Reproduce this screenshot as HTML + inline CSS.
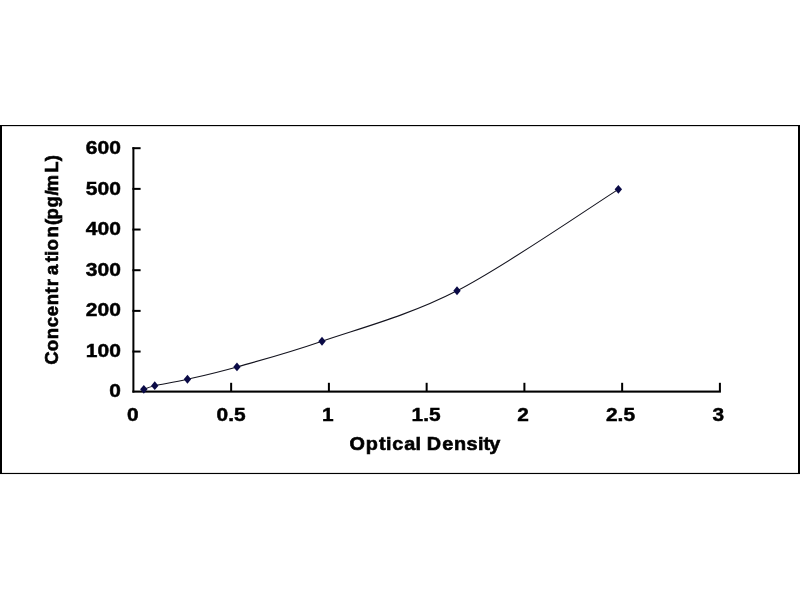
<!DOCTYPE html>
<html>
<head>
<meta charset="utf-8">
<style>
html,body{margin:0;padding:0;background:#fff;}
body{width:800px;height:600px;overflow:hidden;font-family:"Liberation Sans",sans-serif;}
svg{display:block;}
text{font-family:"Liberation Sans",sans-serif;font-weight:bold;fill:#000;stroke:#000;stroke-width:0.45px;}
</style>
</head>
<body>
<svg width="800" height="600" viewBox="0 0 800 600">
<rect x="0" y="0" width="800" height="600" fill="#ffffff"/>
<!-- outer frame -->
<rect x="0" y="125" width="800" height="1.15" fill="#000"/>
<rect x="0" y="472.9" width="800" height="1.15" fill="#000"/>
<rect x="0" y="125" width="2" height="349" fill="#000"/>
<rect x="798" y="125" width="2" height="349" fill="#000"/>
<!-- axes -->
<rect x="132.4" y="147.2" width="2" height="245.4" fill="#000"/>
<rect x="132.4" y="390.55" width="588.5" height="2.1" fill="#000"/>
<!-- y ticks -->
<g fill="#000">
<rect x="132.4" y="147.20" width="8.2" height="2"/>
<rect x="132.4" y="187.87" width="8.2" height="2"/>
<rect x="132.4" y="228.54" width="8.2" height="2"/>
<rect x="132.4" y="269.21" width="8.2" height="2"/>
<rect x="132.4" y="309.88" width="8.2" height="2"/>
<rect x="132.4" y="350.55" width="8.2" height="2"/>
</g>
<!-- x ticks -->
<g fill="#000">
<rect x="230.15" y="382.8" width="2" height="8.5"/>
<rect x="327.90" y="382.8" width="2" height="8.5"/>
<rect x="425.65" y="382.8" width="2" height="8.5"/>
<rect x="523.40" y="382.8" width="2" height="8.5"/>
<rect x="621.15" y="382.8" width="2" height="8.5"/>
<rect x="718.90" y="382.8" width="2" height="8.5"/>
</g>
<!-- curve -->
<path id="curve" d="M143.80,389.30 C145.62,388.70 147.47,387.38 154.75,385.70 C162.03,384.02 173.75,382.38 187.45,379.25 C201.15,376.12 214.52,373.28 236.95,366.95 C259.38,360.62 285.32,353.95 322.00,341.25 C358.68,328.55 407.61,316.07 457.00,290.75 C506.39,265.43 591.46,206.25 618.35,189.35" fill="none" stroke="#14141f" stroke-width="1.1"/>
<!-- markers -->
<g fill="#0a0a46" id="markers">
<path d="M143.80,384.90 L147.50,389.30 L143.80,393.70 L140.10,389.30 Z"/>
<path d="M154.75,381.30 L158.45,385.70 L154.75,390.10 L151.05,385.70 Z"/>
<path d="M187.45,374.85 L191.15,379.25 L187.45,383.65 L183.75,379.25 Z"/>
<path d="M236.95,362.55 L240.65,366.95 L236.95,371.35 L233.25,366.95 Z"/>
<path d="M322.00,336.85 L325.70,341.25 L322.00,345.65 L318.30,341.25 Z"/>
<path d="M457.00,286.35 L460.70,290.75 L457.00,295.15 L453.30,290.75 Z"/>
<path d="M618.35,184.95 L622.05,189.35 L618.35,193.75 L614.65,189.35 Z"/>
</g>
<g style="filter:grayscale(1)">
<!-- y labels -->
<g font-size="17.5" text-anchor="end">
<text x="120.8" y="154.0" textLength="35" lengthAdjust="spacingAndGlyphs">600</text>
<text x="120.8" y="195.0" textLength="35" lengthAdjust="spacingAndGlyphs">500</text>
<text x="120.8" y="234.5" textLength="35" lengthAdjust="spacingAndGlyphs">400</text>
<text x="120.8" y="276.3" textLength="35" lengthAdjust="spacingAndGlyphs">300</text>
<text x="120.8" y="315.7" textLength="35" lengthAdjust="spacingAndGlyphs">200</text>
<text x="120.8" y="356.5" textLength="35" lengthAdjust="spacingAndGlyphs">100</text>
<text x="120.8" y="396.8" textLength="11.6" lengthAdjust="spacingAndGlyphs">0</text>
</g>
<!-- x labels -->
<g font-size="17.5" text-anchor="middle">
<text x="132.7" y="421.3" textLength="11.6" lengthAdjust="spacingAndGlyphs">0</text>
<text x="231.1" y="421.3" textLength="29" lengthAdjust="spacingAndGlyphs">0.5</text>
<text x="327.8" y="421.3" textLength="11.6" lengthAdjust="spacingAndGlyphs">1</text>
<text x="426.1" y="421.3" textLength="29" lengthAdjust="spacingAndGlyphs">1.5</text>
<text x="523.1" y="421.3" textLength="11.6" lengthAdjust="spacingAndGlyphs">2</text>
<text x="620.5" y="421.3" textLength="29" lengthAdjust="spacingAndGlyphs">2.5</text>
<text x="718.4" y="421.3" textLength="11.6" lengthAdjust="spacingAndGlyphs">3</text>
</g>
<text id="xtitle" style="stroke-width:0.6px" font-size="18" transform="translate(0,449.9) scale(1.1,1)" x="317.78 332.46 344.50 350.92 356.50 367.40 377.74 380.74 388.05 402.00 412.65 424.14 434.55 439.50 444.88" y="0">Optical Density</text>
<text id="ytitle" style="stroke-width:0.6px" font-size="18" transform="translate(58,0) rotate(-90) scale(1.03,1.06)" x="-354.20 -340.93 -329.32 -317.71 -306.99 -296.31 -285.04 -277.99 -266.98 -254.70 -248.61 -243.12 -230.53 -218.49 -213.00 -201.38 -189.88 -185.95 -167.72 -156.68" y="0">Concentration(pg/mL)</text>
</g>
</svg>
</body>
</html>
